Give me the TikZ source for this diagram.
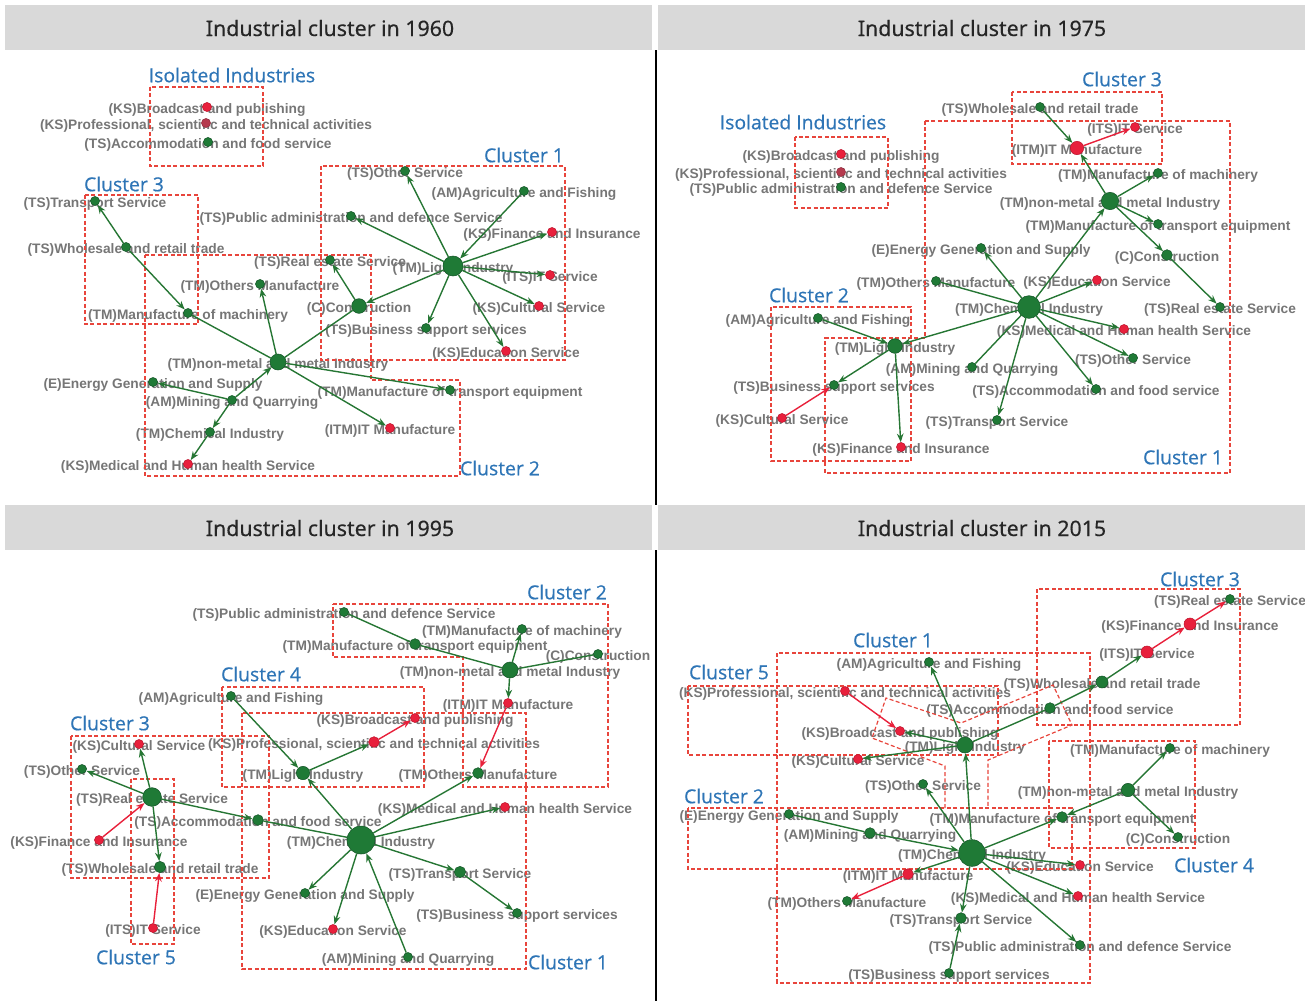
\documentclass[tikz,border=0pt]{standalone}
\usepackage{fontspec}
\setmainfont{Liberation Sans}
\newfontfamily\ttlfont{Open Sans}[FakeBold=0.6]
\newfontfamily\hdfont{Noto Sans}[FakeBold=0.3]
\usetikzlibrary{arrows.meta}
\pgfdeclarelayer{bg}
\pgfsetlayers{bg,main}
\definecolor{gfill}{RGB}{31,122,54}
\definecolor{gdraw}{RGB}{20,85,40}
\definecolor{rfill}{RGB}{232,32,60}
\definecolor{rdraw}{RGB}{190,20,45}
\definecolor{pfill}{RGB}{181,58,78}
\definecolor{egreen}{RGB}{38,118,52}
\definecolor{ered}{RGB}{232,32,58}
\definecolor{boxred}{RGB}{232,69,60}
\definecolor{tblue}{RGB}{46,117,182}
\definecolor{lgray}{RGB}{118,118,118}
\definecolor{hbar}{RGB}{217,217,217}
\tikzset{
  gn/.style={circle,fill=gfill,draw=gdraw,line width=0.4pt,inner sep=0pt,minimum size=6.8pt},
  rn/.style={circle,fill=rfill,draw=rdraw,line width=0.4pt,inner sep=0pt,minimum size=6.8pt},
  pn/.style={circle,fill=pfill,draw=pfill!80!black,line width=0.4pt,inner sep=0pt,minimum size=6.8pt},
  lab/.style={font=\bfseries\fontsize{10.3}{11}\selectfont,text=lgray,inner sep=0pt},
  ge/.style={draw=egreen,line width=1.05pt,-{Stealth[length=6.5pt,width=5pt]}},
  re/.style={draw=ered,line width=1.05pt,-{Stealth[length=6.5pt,width=5pt]}},
  pe/.style={draw=egreen,line width=1.05pt},
  cbox/.style={draw=boxred,line width=0.9pt,dash pattern=on 3pt off 1.8pt},
  ctitle/.style={font=\ttlfont\fontsize{14.5}{16}\selectfont,text=tblue,inner sep=0pt},
  hdr/.style={font=\hdfont\fontsize{16}{18}\selectfont,text=black!85,inner sep=0pt}
}
\newcommand\ind[5]{\node[#2] (#1) at (#3,#4) {};
  \begin{pgfonlayer}{bg}\node[lab] (#1-t) at (#3,#4+3) {#5};\end{pgfonlayer}}
\begin{document}
\begin{tikzpicture}[x=0.75pt,y=-0.75pt]
\useasboundingbox (0,0) rectangle (1305,1001);
% header bars
\fill[hbar] (5,5) rectangle (652,50);
\fill[hbar] (658,5) rectangle (1305,50);
\fill[hbar] (5,505) rectangle (652,550);
\fill[hbar] (658,505) rectangle (1305,550);
\node[hdr] (h1) at (330,28) {Industrial cluster in 1960};
\node[hdr] (h2) at (982,28) {Industrial cluster in 1975};
\node[hdr] (h3) at (330,528) {Industrial cluster in 1995};
\node[hdr] (h4) at (982,528) {Industrial cluster in 2015};
\draw[black,line width=0.8pt] (656,50) -- (656,505);
\draw[black,line width=0.8pt] (656,550) -- (656,1001);

% ================= PANEL 1960 =================
\draw[cbox] (150,87) rectangle (263,166);
\draw[cbox] (85,195) rectangle (198,324);
\draw[cbox] (321,166) rectangle (565,360);
\draw[cbox] (145,255) -- (371,255) -- (371,380) -- (460,380) -- (460,476) -- (145,476) -- cycle;
\node[ctitle] (a-t0) at (232,75) {Isolated Industries};
\node[ctitle] (a-t1) at (524,155) {Cluster 1};
\node[ctitle] (a-t3) at (124,184) {Cluster 3};
\node[ctitle] (a-t2) at (500,468) {Cluster 2};

\ind{a-bro}{rn}{207}{107}{(KS)Broadcast and publishing}
\ind{a-pro}{pn}{206}{123}{(KS)Professional, scientific and technical activities}
\ind{a-acc}{gn}{208}{142}{(TS)Accommodation and food service}
\ind{a-oth}{gn}{405}{171}{(TS)Other Service}
\ind{a-agr}{gn}{524}{191}{(AM)Agriculture and Fishing}
\ind{a-tra}{gn}{95}{201}{(TS)Transport Service}
\ind{a-pub}{gn}{351}{216}{(TS)Public administration and defence Service}
\ind{a-fin}{rn}{552}{232}{(KS)Finance and Insurance}
\ind{a-who}{gn}{126}{247}{(TS)Wholesale and retail trade}
\ind{a-rea}{gn}{330}{260}{(TS)Real estate Service}
\ind{a-lig}{gn,minimum size=15pt}{453}{266}{(TM)Light Industry}
\ind{a-its}{rn}{550}{275}{(ITS)IT Service}
\ind{a-otm}{gn}{260}{284}{(TM)Others Manufacture}
\ind{a-con}{gn,minimum size=11pt}{359}{306}{(C)Construction}
\ind{a-cul}{rn}{539}{306}{(KS)Cultural Service}
\ind{a-mac}{gn}{188}{313}{(TM)Manufacture of machinery}
\ind{a-bus}{gn}{426}{328}{(TS)Business support services}
\ind{a-edu}{rn}{506}{351}{(KS)Education Service}
\ind{a-non}{gn,minimum size=12pt}{278}{362}{(TM)non-metal and metal Industry}
\ind{a-ene}{gn}{153}{382}{(E)Energy Generation and Supply}
\ind{a-tre}{gn}{450}{390}{(TM)Manufacture of transport equipment}
\ind{a-min}{gn}{232}{400}{(AM)Mining and Quarrying}
\ind{a-itm}{rn}{390}{428}{(ITM)IT Manufacture}
\ind{a-che}{gn}{210}{432}{(TM)Chemical Industry}
\ind{a-med}{rn}{188}{464}{(KS)Medical and Human health Service}

\foreach \s/\t in {a-who/a-tra,a-who/a-mac,a-non/a-otm,a-con/a-rea,
  a-lig/a-con,a-lig/a-oth,a-agr/a-lig,a-lig/a-pub,a-lig/a-fin,a-lig/a-its,a-lig/a-cul,
  a-lig/a-bus,a-lig/a-edu,a-non/a-tre,a-non/a-itm,a-min/a-non,a-min/a-ene,a-min/a-che,a-che/a-med}
  \draw[ge] (\s) -- (\t);
\draw[pe] (a-mac) -- (a-non);
\draw[pe] (a-non) -- (a-con);

% ================= PANEL 1975 =================
\draw[cbox] (1012,92) rectangle (1162,164);
\draw[cbox] (795,137) rectangle (888,208);
\draw[cbox] (925,121) -- (1230,121) -- (1230,473) -- (825,473) -- (825,338) -- (925,338) -- cycle;
\draw[cbox] (771,307) rectangle (911,461);
\node[ctitle] (b-t3) at (1122,79) {Cluster 3};
\node[ctitle] (b-t0) at (803,122) {Isolated Industries};
\node[ctitle] (b-t2) at (809,295) {Cluster 2};
\node[ctitle] (b-t1) at (1183,457) {Cluster 1};

\ind{b-who}{gn}{1040}{107}{(TS)Wholesale and retail trade}
\ind{b-its}{rn}{1135}{127}{(ITS)IT Service}
\ind{b-itm}{rn,minimum size=10pt}{1077}{148}{(ITM)IT Manufacture}
\ind{b-bro}{rn}{841}{154}{(KS)Broadcast and publishing}
\ind{b-pro}{pn}{841}{172}{(KS)Professional, scientific and technical activities}
\ind{b-mac}{gn}{1158}{173}{(TM)Manufacture of machinery}
\ind{b-pub}{gn}{841}{187}{(TS)Public administration and defence Service}
\ind{b-non}{gn,minimum size=13pt}{1110}{201}{(TM)non-metal and metal Industry}
\ind{b-tre}{gn}{1158}{224}{(TM)Manufacture of transport equipment}
\ind{b-ene}{gn}{981}{248}{(E)Energy Generation and Supply}
\ind{b-con}{gn,minimum size=8pt}{1167}{255}{(C)Construction}
\ind{b-otm}{gn}{936}{281}{(TM)Others Manufacture}
\ind{b-edu}{rn}{1097}{280}{(KS)Education Service}
\ind{b-che}{gn,minimum size=17pt}{1029}{307}{(TM)Chemical Industry}
\ind{b-rea}{gn}{1220}{307}{(TS)Real estate Service}
\ind{b-agr}{gn}{818}{318}{(AM)Agriculture and Fishing}
\ind{b-med}{rn}{1124}{329}{(KS)Medical and Human health Service}
\ind{b-lig}{gn,minimum size=11pt}{895}{346}{(TM)Light Industry}
\ind{b-oth}{gn}{1133}{358}{(TS)Other Service}
\ind{b-min}{gn}{972}{367}{(AM)Mining and Quarrying}
\ind{b-bus}{gn}{834}{385}{(TS)Business support services}
\ind{b-acc}{gn}{1096}{389}{(TS)Accommodation and food service}
\ind{b-cul}{rn}{782}{418}{(KS)Cultural Service}
\ind{b-tra}{gn}{997}{420}{(TS)Transport Service}
\ind{b-fin}{rn}{901}{447}{(KS)Finance and Insurance}

\foreach \s/\t in {b-who/b-itm,b-non/b-itm,b-non/b-mac,b-non/b-tre,b-non/b-con,b-con/b-rea,
  b-che/b-non,b-che/b-ene,b-che/b-edu,b-che/b-med,b-che/b-lig,b-agr/b-lig,
  b-che/b-oth,b-che/b-acc,b-che/b-tra,b-lig/b-bus,b-lig/b-fin}
  \draw[ge] (\s) -- (\t);
\draw[pe] (b-che) -- (b-otm);
\draw[pe] (b-che) -- (b-min);
\draw[re] (b-itm) -- (b-its);
\draw[re] (b-cul) -- (b-bus);

% ================= PANEL 1995 =================
\draw[cbox] (333,604) -- (608,604) -- (608,787) -- (463,787) -- (463,657) -- (333,657) -- cycle;
\draw[cbox] (222,687) rectangle (424,787);
\draw[cbox] (71,736) rectangle (269,878);
\draw[cbox] (242,713) rectangle (526,969);
\draw[cbox] (131,779) rectangle (174,944);
\node[ctitle] (c-t2) at (567,592) {Cluster 2};
\node[ctitle] (c-t4) at (261,674) {Cluster 4};
\node[ctitle] (c-t3) at (110,723) {Cluster 3};
\node[ctitle] (c-t5) at (136,957) {Cluster 5};
\node[ctitle] (c-t1) at (568,962) {Cluster 1};

\ind{c-pub}{gn}{344}{612}{(TS)Public administration and defence Service}
\ind{c-mac}{gn}{522}{629}{(TM)Manufacture of machinery}
\ind{c-tre}{gn,minimum size=8pt}{415}{644}{(TM)Manufacture of transport equipment}
\ind{c-con}{gn}{598}{654}{(C)Construction}
\ind{c-non}{gn,minimum size=12pt}{510}{670}{(TM)non-metal and metal Industry}
\ind{c-agr}{gn}{231}{696}{(AM)Agriculture and Fishing}
\ind{c-itm}{rn}{508}{703}{(ITM)IT Manufacture}
\ind{c-bro}{rn}{415}{718}{(KS)Broadcast and publishing}
\ind{c-pro}{rn,minimum size=8pt}{374}{742}{(KS)Professional, scientific and technical activities}
\ind{c-cul}{rn}{139}{744}{(KS)Cultural Service}
\ind{c-oth}{gn}{82}{769}{(TS)Other Service}
\ind{c-lig}{gn,minimum size=10pt}{303}{773}{(TM)Light Industry}
\ind{c-otm}{gn,minimum size=8pt}{478}{773}{(TM)Others Manufacture}
\ind{c-rea}{gn,minimum size=14pt}{152}{797}{(TS)Real estate Service}
\ind{c-med}{rn}{505}{807}{(KS)Medical and Human health Service}
\ind{c-acc}{gn,minimum size=8pt}{258}{820}{(TS)Accommodation and food service}
\ind{c-fin}{rn}{99}{840}{(KS)Finance and Insurance}
\ind{c-che}{gn,minimum size=21pt}{361}{840}{(TM)Chemical Industry}
\ind{c-who}{gn,minimum size=8.5pt}{160}{867}{(TS)Wholesale and retail trade}
\ind{c-tra}{gn,minimum size=8.5pt}{460}{872}{(TS)Transport Service}
\ind{c-ene}{gn}{305}{893}{(E)Energy Generation and Supply}
\ind{c-bus}{gn}{517}{913}{(TS)Business support services}
\ind{c-its}{rn}{153}{928}{(ITS)IT Service}
\ind{c-edu}{rn}{333}{929}{(KS)Education Service}
\ind{c-min}{gn}{408}{957}{(AM)Mining and Quarrying}

\foreach \s/\t in {c-non/c-mac,c-non/c-itm,c-agr/c-lig,
  c-lig/c-pro,c-che/c-lig,c-che/c-otm,c-che/c-med,c-rea/c-acc,c-rea/c-cul,
  c-rea/c-oth,c-rea/c-who,c-che/c-ene,c-che/c-edu,c-min/c-che,c-che/c-tra,c-tra/c-bus}
  \draw[ge] (\s) -- (\t);
\foreach \s/\t in {c-non/c-tre,c-tre/c-pub,c-non/c-con,c-acc/c-che}
  \draw[pe] (\s) -- (\t);
\foreach \s/\t in {c-itm/c-otm,c-pro/c-bro,c-fin/c-rea,c-its/c-who}
  \draw[re] (\s) -- (\t);

% ================= PANEL 2015 =================
\draw[cbox] (1037,589) rectangle (1240,725);
\draw[cbox] (777,653) rectangle (1090,983);
\draw[cbox] (688,686) rectangle (998,755);
\draw[cbox] (688,808) rectangle (1072,869);
\draw[cbox] (1049,741) rectangle (1195,848);
\draw[cbox] (945,808) -- (945,766) -- (872,738) -- (886,698) -- (961,723) -- (1053,685) -- (1072,725) -- (988,760) -- (988,808);
\node[ctitle] (d-t3) at (1200,579) {Cluster 3};
\node[ctitle] (d-t1) at (893,640) {Cluster 1};
\node[ctitle] (d-t5) at (729,672) {Cluster 5};
\node[ctitle] (d-t2) at (724,796) {Cluster 2};
\node[ctitle] (d-t4) at (1214,865) {Cluster 4};

\ind{d-rea}{gn}{1230}{599}{(TS)Real estate Service}
\ind{d-fin}{rn,minimum size=9pt}{1190}{624}{(KS)Finance and Insurance}
\ind{d-its}{rn,minimum size=9pt}{1147}{652}{(ITS)IT Service}
\ind{d-agr}{gn}{929}{662}{(AM)Agriculture and Fishing}
\ind{d-who}{gn,minimum size=9pt}{1102}{682}{(TS)Wholesale and retail trade}
\ind{d-pro}{rn}{845}{691}{(KS)Professional, scientific and technical activities}
\ind{d-acc}{gn,minimum size=8pt}{1050}{708}{(TS)Accommodation and food service}
\ind{d-bro}{rn}{900}{731}{(KS)Broadcast and publishing}
\ind{d-lig}{gn,minimum size=12pt}{965}{745}{(TM)Light Industry}
\ind{d-mac}{gn}{1170}{748}{(TM)Manufacture of machinery}
\ind{d-cul}{rn}{858}{759}{(KS)Cultural Service}
\ind{d-oth}{gn}{923}{784}{(TS)Other Service}
\ind{d-non}{gn,minimum size=10pt}{1128}{790}{(TM)non-metal and metal Industry}
\ind{d-ene}{gn}{789}{814}{(E)Energy Generation and Supply}
\ind{d-tre}{gn,minimum size=8pt}{1062}{817}{(TM)Manufacture of transport equipment}
\ind{d-min}{gn,minimum size=8pt}{870}{833}{(AM)Mining and Quarrying}
\ind{d-con}{gn}{1178}{837}{(C)Construction}
\ind{d-che}{gn,minimum size=20pt}{972}{853}{(TM)Chemical Industry}
\ind{d-edu}{rn}{1080}{865}{(KS)Education Service}
\ind{d-itm}{rn,minimum size=8pt}{908}{874}{(ITM)IT Manufacture}
\ind{d-med}{rn}{1078}{896}{(KS)Medical and Human health Service}
\ind{d-otm}{gn}{847}{901}{(TM)Others Manufacture}
\ind{d-tra}{gn,minimum size=8pt}{961}{918}{(TS)Transport Service}
\ind{d-pub}{gn}{1080}{945}{(TS)Public administration and defence Service}
\ind{d-bus}{gn}{949}{973}{(TS)Business support services}

\foreach \s/\t in {d-who/d-its,d-acc/d-who,d-lig/d-agr,d-lig/d-bro,d-lig/d-cul,
  d-che/d-lig,d-che/d-oth,d-min/d-che,d-che/d-tre,d-non/d-tre,d-non/d-mac,d-non/d-con,
  d-che/d-edu,d-che/d-med,d-che/d-pub,d-che/d-tra,d-bus/d-tra,d-che/d-itm}
  \draw[ge] (\s) -- (\t);
\draw[pe] (d-ene) -- (d-min);
\draw[pe] (d-lig) -- (d-acc);
\foreach \s/\t in {d-fin/d-rea,d-its/d-fin,d-pro/d-bro,d-itm/d-otm}
  \draw[re] (\s) -- (\t);
\end{tikzpicture}
\end{document}
